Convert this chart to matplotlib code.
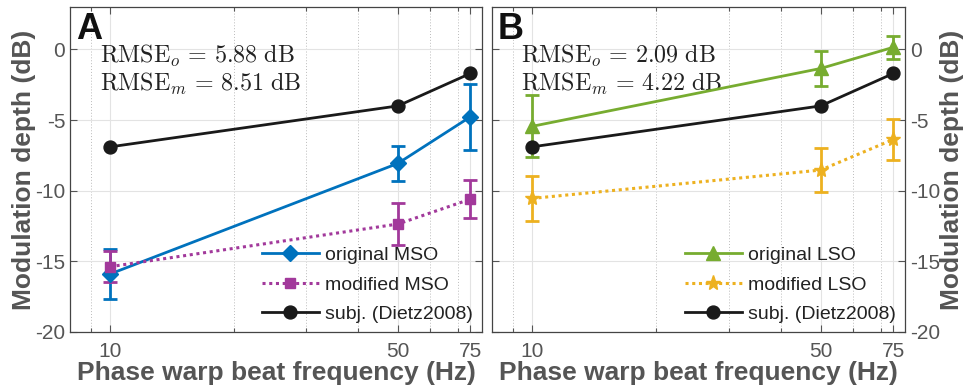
import matplotlib
matplotlib.use("Agg")
import matplotlib.pyplot as plt
from matplotlib.ticker import FixedLocator, NullFormatter
from matplotlib.lines import Line2D

plt.rcParams['font.family'] = ['Liberation Sans', 'DejaVu Sans']
plt.rcParams['mathtext.fontset'] = 'cm'

freqs = [10, 50, 75]
subj = [-6.9, -4.0, -1.7]

mso_orig = [-15.9, -8.07, -4.77]
mso_orig_err = [1.8, 1.25, 2.35]
mso_mod = [-15.38, -12.36, -10.6]
mso_mod_err = [1.1, 1.5, 1.35]

lso_orig = [-5.45, -1.35, 0.15]
lso_orig_err = [2.2, 1.25, 0.8]
lso_mod = [-10.55, -8.54, -6.37]
lso_mod_err = [1.6, 1.55, 1.45]

rmse_A = ["5.88", "8.51"]
rmse_B = ["2.09", "4.22"]

C_BLUE = '#0072BD'
C_MAG = '#A2399B'
C_GREEN = '#77AC30'
C_YEL = '#EDB120'
C_BLK = '#1A1A1A'
C_TXT = '#555555'

fig = plt.figure(figsize=(9.67, 3.85), dpi=100)
axA = fig.add_axes([0.0724, 0.1377, 0.4260, 0.8441])
axB = fig.add_axes([0.5085, 0.1377, 0.4274, 0.8441])

def style(ax, right=False):
    ax.set_xscale('log')
    ax.set_xlim(8, 80)
    ax.set_ylim(-20, 3)
    ax.xaxis.set_major_locator(FixedLocator(freqs))
    ax.set_xticklabels([str(f) for f in freqs])
    ax.xaxis.set_minor_locator(FixedLocator([9, 20, 30, 40, 60, 70]))
    ax.xaxis.set_minor_formatter(NullFormatter())
    ax.set_yticks([-20, -15, -10, -5, 0])
    ax.set_yticklabels(['-20', '-15', '-10', '-5', '0'])
    ax.grid(True, which='major', color='#E3E3E3', lw=0.8, ls='-')
    ax.grid(True, which='minor', axis='x', color='#BBBBBB', lw=0.7, ls=(0, (1, 2)))
    ax.set_axisbelow(True)
    ax.tick_params(which='both', direction='in', top=True, right=True, left=True,
                   labelsize=15, colors=C_TXT, labelcolor=C_TXT, length=5, width=0.8)
    ax.tick_params(axis='x', pad=7)
    ax.tick_params(which='minor', length=3)
    if right:
        ax.tick_params(labelleft=False, labelright=True)
        ax.yaxis.set_label_position('right')
    for s in ax.spines.values():
        s.set_color('#444444')
        s.set_linewidth(0.9)
    ax.set_xlabel('Phase warp beat frequency (Hz)', fontsize=19, fontweight='bold',
                  color=C_TXT, labelpad=0)
    ax.set_ylabel('Modulation depth (dB)', fontsize=19, fontweight='bold',
                  color=C_TXT, labelpad=-1 if not right else 0)
    if right:
        ax.yaxis.label.set_rotation(90)

style(axA)
style(axB, right=True)

EB = dict(capsize=5, capthick=2, elinewidth=2, zorder=3)
DOT = (0, (1, 1.2))

# Panel A
axA.errorbar(freqs, mso_orig, yerr=mso_orig_err, color=C_BLUE, lw=2, marker='D', ms=8, **EB)
axA.errorbar(freqs, mso_mod, yerr=mso_mod_err, color=C_MAG, lw=2.2, ls=DOT,
             marker='s', ms=7, **EB)
axA.plot(freqs, subj, color=C_BLK, lw=2, marker='o', ms=9.3, zorder=4)
hA = [Line2D([], [], color=C_BLUE, lw=2, marker='D', ms=8),
      Line2D([], [], color=C_MAG, lw=2.2, ls=DOT, marker='s', ms=7),
      Line2D([], [], color=C_BLK, lw=2, marker='o', ms=9.3)]
lA = ['original MSO', 'modified MSO', 'subj. (Dietz2008)']

# Panel B
axB.errorbar(freqs, lso_orig, yerr=lso_orig_err, color=C_GREEN, lw=2, marker='^', ms=10, **EB)
axB.errorbar(freqs, lso_mod, yerr=lso_mod_err, color=C_YEL, lw=2.2, ls=DOT,
             marker='*', ms=11, **EB)
axB.plot(freqs, subj, color=C_BLK, lw=2, marker='o', ms=9.3, zorder=4)
hB = [Line2D([], [], color=C_GREEN, lw=2, marker='^', ms=10),
      Line2D([], [], color=C_YEL, lw=2.2, ls=DOT, marker='*', ms=11),
      Line2D([], [], color=C_BLK, lw=2, marker='o', ms=9.3)]
lB = ['original LSO', 'modified LSO', 'subj. (Dietz2008)']

for ax, letter, rm, hs, ls in [(axA, 'A', rmse_A, hA, lA), (axB, 'B', rmse_B, hB, lB)]:
    ax.text(0.015, 0.985, letter, transform=ax.transAxes, fontsize=26, fontweight='bold',
            color='#111111', va='top', ha='left')
    ax.text(0.072, 0.85, r'$\mathrm{RMSE}_o\,=\,%s\ \mathrm{dB}$' % rm[0],
            transform=ax.transAxes, fontsize=17.3, color='#222222', va='center', ha='left')
    ax.text(0.072, 0.763, r'$\mathrm{RMSE}_m\,=\,%s\ \mathrm{dB}$' % rm[1],
            transform=ax.transAxes, fontsize=17.3, color='#222222', va='center', ha='left')
    leg = ax.legend(hs, ls, loc='lower right', frameon=False, fontsize=14,
                    handlelength=2.9, handletextpad=0.35, labelspacing=0.62,
                    borderaxespad=0.05)
    for t in leg.get_texts():
        t.set_color('#222222')

fig.savefig('out.png', dpi=100)
